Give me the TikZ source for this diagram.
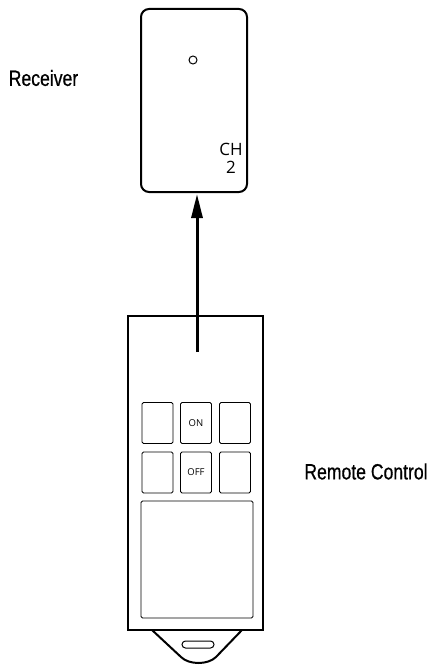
\documentclass[tikz,border=0pt]{standalone}
\usepackage{fontspec}
\setmainfont{Liberation Sans}
\newfontfamily\labelfont[FakeStretch=0.8, FakeBold=0.6]{Liberation Sans}
\newfontfamily\thinfont{Open Sans}
\usetikzlibrary{arrows.meta}

\tikzset{
  case/.style={draw, line width=2pt, inner sep=0pt},
  key/.style={draw, line width=0.8pt, rounded corners=1.5pt, inner sep=0pt,
              minimum width=31pt, minimum height=41pt, font=\thinfont\fontsize{9.5}{10}\selectfont},
  caption/.style={font=\labelfont\fontsize{22}{24}\selectfont, inner sep=0pt}
}

\begin{document}
\begin{tikzpicture}[x=1pt, y=-1pt]
  \useasboundingbox (0,0) rectangle (441,669);

  % receiver
  \node[case, rounded corners=8pt, minimum width=106pt, minimum height=183pt] (rx) at (194,100.5) {};
  \node[draw, circle, line width=1pt, minimum size=8pt, inner sep=0pt] (led) at (193,60) {};
  \node[font=\thinfont\fontsize{17}{20}\selectfont, align=center, inner sep=0pt] (ch) at (231,158) {CH\\[-2pt]2};
  \node[caption] (rxlabel) at (43.5,78) {Receiver};

  % remote control
  \node[case, line width=2.5pt, minimum width=135pt, minimum height=314pt] (tx) at (195.5,473) {};
  \coordinate (txtop) at (197,352);
  \begin{scope}[every node/.style={key}]
    \node (k1) at (157.5,423) {};
    \node (k2) at (196,423) {ON};
    \node (k3) at (235,423) {};
    \node (k4) at (157.5,472.5) {};
    \node (k5) at (196,472.5) {OFF};
    \node (k6) at (235,472.5) {};
  \end{scope}
  \node[key, minimum width=112pt, minimum height=117pt] (pad) at (197,559.5) {};

  % strap tab
  \draw[line width=2pt, line join=round]
    (152,630) -- (181,657) .. controls (189,665) and (208,665) .. (216,657) -- (242,630);
  \node[draw, line width=1pt, rounded corners=3.5pt, minimum width=32pt, minimum height=7pt, inner sep=0pt] (slot) at (198,644.5) {};

  \node[caption] (txlabel) at (366,471.5) {Remote Control};

  % signal
  \draw[line width=3pt, -{Triangle[length=24pt, width=11pt]}] (txtop) -- (197,194) ;
\end{tikzpicture}
\end{document}
